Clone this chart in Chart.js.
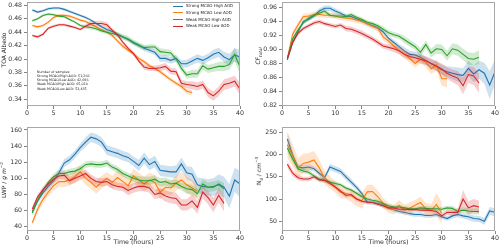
<!DOCTYPE html>
<html>
<head>
<meta charset="utf-8">
<script src="https://cdn.jsdelivr.net/npm/chart.js@4.4.1/dist/chart.umd.min.js"></script>
<style>
    html, body { margin: 0; padding: 0; background: #fff; }
    body { position: relative; width: 500px; height: 248px; overflow: hidden; font-family: "DejaVu Sans", sans-serif; color: #222; }
    canvas { position: absolute; }
    .ylab { position: absolute; white-space: nowrap; font-size: 6px; line-height: 6px; transform: translate(-50%, -50%) rotate(-90deg); }
    .ylab i { font-style: italic; }
    .ylab sub, .ylab sup { font-size: 4.2px; line-height: 0; }
    .legend { position: absolute; left: 173px; top: 3.3px; font-size: 4px; line-height: 6.7px; white-space: nowrap; }
    .legend span { display: inline-block; width: 10px; height: 0; border-top: 1px solid; vertical-align: middle; margin-right: 3px; }
    .samples { position: absolute; left: 37px; top: 69.5px; font-size: 3.3px; line-height: 4.33px; white-space: nowrap; }
</style>
</head>
<body>
<canvas id="albedo-chart" width="245" height="124" style="left:0;top:0;width:245px;height:124px"></canvas>
<canvas id="cf-chart" width="250" height="124" style="left:250px;top:0;width:250px;height:124px"></canvas>
<canvas id="lwp-chart" width="245" height="124" style="left:0;top:124px;width:245px;height:124px"></canvas>
<canvas id="nd-chart" width="250" height="124" style="left:250px;top:124px;width:250px;height:124px"></canvas>

<div class="ylab" style="left:3.6px;top:50px">TOA Albedo</div>
<div class="ylab" style="left:258px;top:56px"><i>CF<sub>total</sub></i></div>
<div class="ylab" style="left:3.6px;top:180px">LWP / <i>g m</i><sup>&minus;2</sup></div>
<div class="ylab" style="left:259px;top:171px">N<sub>d</sub> / <i>cm</i><sup>&minus;3</sup></div>

<div class="legend" id="legend"></div>
<div class="samples" id="samples"></div>

<script>
// x axis
var hours = [1,2,3,4,5,6,7,8,9,10,11,12,13,14,15,16,17,18,19,20,21,22,23,24,25,26,27,28,29,30,31,32,33,34,35,36,37,38,39,40];
var hourTicks = [0,5,10,15,20,25,30,35,40];

var seriesNames = ['Strong MCAO High AOD', 'Strong MCAO Low AOD', 'Weak MCAO High AOD', 'Weak MCAO Low AOD'];
var sampleLines = ['Number of samples:', 'Strong MCAO/High AOD: 51,266', 'Strong MCAO/Low AOD: 42,696', 'Weak MCAO/High AOD: 65,020', 'Weak MCAO/Low AOD: 53,435'];

// TOA albedo
var albedoTicks = [0.34,0.36,0.38,0.40,0.42,0.44,0.46,0.48];
var albedoStrongHigh = [0.473,0.470,0.472,0.475,0.476,0.476,0.474,0.471,0.468,0.465,0.462,0.458,0.453,0.448,0.444,0.441,0.437,0.433,0.429,0.424,0.420,0.416,0.413,0.410,0.401,0.401,0.398,0.401,0.393,0.393,0.397,0.401,0.398,0.402,0.407,0.410,0.403,0.399,0.406,0.403];
var albedoStrongLow = [0.450,0.448,0.450,0.455,0.462,0.465,0.465,0.464,0.461,0.458,0.456,0.452,0.448,0.444,0.440,0.435,0.427,0.419,0.413,0.408,0.401,0.396,0.390,0.386,0.381,0.375,0.369,0.364,0.359,0.352,0.350];
var albedoWeakHigh = [0.457,0.460,0.465,0.467,0.466,0.464,0.463,0.459,0.455,0.450,0.448,0.447,0.445,0.442,0.440,0.438,0.436,0.433,0.430,0.425,0.421,0.417,0.418,0.418,0.411,0.410,0.409,0.400,0.386,0.376,0.378,0.378,0.390,0.385,0.387,0.389,0.389,0.392,0.407,0.388];
var albedoWeakLow = [0.435,0.433,0.437,0.446,0.449,0.451,0.451,0.449,0.447,0.444,0.449,0.453,0.453,0.453,0.451,0.443,0.436,0.425,0.416,0.408,0.397,0.388,0.386,0.386,0.387,0.389,0.382,0.381,0.364,0.362,0.361,0.359,0.362,0.350,0.345,0.352,0.362,0.364,0.367,0.355];
var albedoStrongHighErr = [0.002,0.002,0.002,0.002,0.002,0.002,0.002,0.002,0.002,0.002,0.002,0.002,0.002,0.002,0.003,0.003,0.003,0.003,0.003,0.003,0.003,0.004,0.004,0.004,0.005,0.005,0.005,0.005,0.005,0.006,0.006,0.006,0.006,0.006,0.007,0.007,0.008,0.009,0.010,0.011];
var albedoStrongLowErr = [0.002,0.002,0.002,0.002,0.002,0.002,0.002,0.002,0.002,0.002,0.002,0.002,0.002,0.002,0.002,0.002,0.003,0.003,0.003,0.003,0.003,0.003,0.003,0.003,0.003,0.003,0.003,0.003,0.004,0.004,0.004];
var albedoWeakHighErr = [0.002,0.002,0.002,0.002,0.002,0.002,0.002,0.002,0.002,0.002,0.003,0.003,0.003,0.003,0.003,0.003,0.004,0.004,0.004,0.004,0.004,0.004,0.004,0.004,0.005,0.005,0.005,0.005,0.005,0.005,0.006,0.006,0.006,0.006,0.006,0.007,0.007,0.008,0.010,0.011];
var albedoWeakLowErr = [0.002,0.002,0.002,0.002,0.002,0.002,0.002,0.002,0.002,0.002,0.003,0.004,0.004,0.004,0.004,0.003,0.003,0.003,0.003,0.003,0.003,0.004,0.004,0.004,0.005,0.005,0.005,0.005,0.005,0.005,0.006,0.006,0.006,0.007,0.007,0.007,0.008,0.008,0.008,0.009];

// Cloud fraction
var cfTicks = [0.82,0.84,0.86,0.88,0.90,0.92,0.94,0.96];
var cfStrongHigh = [0.885,0.910,0.925,0.940,0.943,0.948,0.955,0.959,0.959,0.955,0.952,0.948,0.947,0.944,0.941,0.937,0.934,0.931,0.925,0.916,0.910,0.904,0.898,0.893,0.892,0.889,0.884,0.880,0.876,0.871,0.868,0.866,0.864,0.863,0.873,0.865,0.871,0.866,0.849,0.868];
var cfStrongLow = [0.887,0.922,0.935,0.947,0.948,0.950,0.950,0.949,0.949,0.948,0.946,0.945,0.944,0.942,0.940,0.937,0.933,0.930,0.918,0.912,0.905,0.898,0.893,0.887,0.880,0.886,0.882,0.872,0.878,0.858,0.858];
var cfWeakHigh = [0.887,0.915,0.928,0.938,0.945,0.949,0.952,0.955,0.949,0.948,0.948,0.947,0.950,0.946,0.943,0.939,0.937,0.934,0.929,0.924,0.921,0.919,0.914,0.909,0.904,0.896,0.907,0.895,0.901,0.900,0.891,0.901,0.899,0.893,0.887,0.886,0.889];
var cfWeakLow = [0.887,0.910,0.923,0.930,0.934,0.938,0.940,0.937,0.935,0.933,0.935,0.930,0.929,0.926,0.923,0.919,0.915,0.910,0.905,0.903,0.901,0.898,0.893,0.890,0.888,0.886,0.884,0.880,0.876,0.872,0.866,0.862,0.859,0.848,0.864,0.862,0.852];
var cfStrongHighErr = [0.003,0.003,0.003,0.003,0.003,0.003,0.004,0.004,0.004,0.004,0.003,0.003,0.003,0.003,0.003,0.003,0.003,0.003,0.003,0.004,0.004,0.004,0.005,0.005,0.005,0.006,0.006,0.006,0.007,0.007,0.008,0.009,0.010,0.010,0.011,0.012,0.013,0.015,0.020,0.018];
var cfStrongLowErr = [0.003,0.004,0.004,0.004,0.004,0.004,0.004,0.004,0.004,0.004,0.004,0.004,0.004,0.004,0.004,0.004,0.004,0.004,0.005,0.005,0.005,0.005,0.006,0.006,0.006,0.006,0.007,0.007,0.008,0.010,0.012];
var cfWeakHighErr = [0.003,0.003,0.003,0.003,0.003,0.003,0.003,0.003,0.003,0.003,0.003,0.003,0.003,0.003,0.003,0.003,0.003,0.003,0.004,0.004,0.004,0.004,0.005,0.005,0.005,0.006,0.006,0.006,0.007,0.007,0.007,0.008,0.008,0.008,0.009,0.009,0.010];
var cfWeakLowErr = [0.003,0.003,0.003,0.003,0.003,0.003,0.003,0.003,0.003,0.003,0.003,0.004,0.004,0.004,0.004,0.004,0.004,0.004,0.004,0.004,0.005,0.005,0.005,0.005,0.006,0.006,0.006,0.007,0.007,0.008,0.008,0.009,0.010,0.012,0.012,0.013,0.014];

// Liquid water path
var lwpTicks = [40,60,80,100,120,140,160];
var lwpStrongHigh = [59,72,82,90,97,107,119,123,130,138,145,151,149,145,135,133,131,128,126,121,116,125,117,121,110,109,108,108,118,107,105,92,90,89,89,93,89,78,98,93];
var lwpStrongLow = [45,62,74,83,91,96,96,98,102,108,100,95,89,95,100,95,101,96,91,103,98,93,98,95,83,89,88,94,98,92,88,84];
var lwpWeakHigh = [57,73,85,95,102,106,106,108,109,112,117,118,117,117,119,114,111,106,103,100,98,97,97,99,95,96,93,94,90,87,86,81,93,89,90,92,87];
var lwpWeakLow = [62,77,86,93,99,103,104,97,100,103,106,100,96,95,96,92,90,89,85,88,90,90,88,80,82,78,76,75,67,67,72,64,83,76,67,79,69];
var lwpStrongHighErr = [3,3,3,4,4,5,5,5,5,5,6,6,6,6,6,6,6,6,6,6,7,7,7,7,7,7,7,8,8,8,9,9,10,10,11,12,13,15,15,16];
var lwpStrongLowErr = [3,4,5,5,6,6,7,7,8,8,8,8,8,8,8,8,9,9,9,9,9,9,9,9,9,9,9,9,10,10,10,10];
var lwpWeakHighErr = [3,3,3,3,4,4,4,4,4,4,4,4,4,4,4,4,4,4,4,4,5,5,5,5,5,5,5,5,5,6,6,6,6,6,6,6,7];
var lwpWeakLowErr = [3,3,4,4,4,4,5,5,5,5,5,5,5,5,5,5,5,5,6,6,6,6,6,6,6,7,7,7,7,7,8,8,8,8,9,9,10];

// Droplet number
var ndTicks = [50,100,150,200,250];
var ndStrongHigh = [235,199,172,170,172,168,158,148,172,167,162,150,138,126,112,93,92,90,86,80,76,72,70,67,65,65,63,63,65,60,56,62,65,62,60,56,55,50,73,70];
var ndStrongLow = [222,198,170,180,183,188,170,148,137,127,115,113,108,100,96,116,117,105,90,80,76,86,75,80,86,92,78,74,88,68];
var ndWeakHigh = [215,190,168,163,160,152,145,142,138,135,132,125,120,113,105,100,97,95,90,85,82,82,80,78,78,80,79,78,78,77,80,79,72,75,73,72,72];
var ndWeakLow = [178,158,148,145,145,150,143,142,135,127,118,108,110,100,95,93,92,88,85,80,80,77,77,76,76,75,75,74,72,62,70,70,70,100,80,85,82];
var ndStrongHighErr = [15,10,7,6,6,6,6,6,7,7,7,7,7,6,6,6,5,5,5,5,5,5,5,5,5,5,5,5,5,5,5,6,6,6,7,7,7,8,9,9];
var ndStrongLowErr = [30,25,22,22,20,20,18,15,14,13,13,13,14,16,18,16,15,14,12,11,11,12,12,12,12,13,13,14,25,25];
var ndWeakHighErr = [10,8,6,5,5,5,5,5,5,5,4,4,4,4,4,4,4,4,4,4,4,4,4,4,4,4,5,5,5,5,5,6,6,6,6,7,7];
var ndWeakLowErr = [8,7,6,5,5,5,5,5,5,5,5,5,5,5,4,4,4,4,4,4,4,4,4,4,4,5,5,5,5,6,6,7,8,20,15,15,14];

var lineColors = ['#1f77b4', '#ff7f0e', '#2ca02c', '#d62728'];
var bandColors = ['rgba(31,119,180,0.22)', 'rgba(255,127,14,0.22)', 'rgba(44,160,44,0.22)', 'rgba(214,39,40,0.22)'];
var font = 'DejaVu Sans';

// Grey box round the plot area
var frame = {
    id: 'frame',
    afterDatasetsDraw: function(chart) {
        var a = chart.chartArea;
        var ctx = chart.ctx;
        ctx.save();
        ctx.strokeStyle = '#a8a8a8';
        ctx.lineWidth = 1;
        ctx.strokeRect(a.left + 0.5, a.top + 0.5, a.right - a.left - 1, a.bottom - a.top - 1);
        ctx.restore();
    }
};

function points(vals, errs, sign) {
    return vals.map(function(v, i) {
        return { x: hours[i], y: v + sign * errs[i] };
    });
}

// lower edge, upper edge filled down to it, then the mean line
function seriesDatasets(values, errors) {
    var sets = [];
    for (var k = values.length - 1; k >= 0; k--) {
        sets.push({ data: points(values[k], errors[k], -1), borderWidth: 0, borderColor: 'transparent', pointRadius: 0, fill: false });
        sets.push({ data: points(values[k], errors[k], 1), borderWidth: 0, borderColor: 'transparent', pointRadius: 0, fill: '-1', backgroundColor: bandColors[k] });
        sets.push({ data: points(values[k], errors[k], 0), borderWidth: 1.1, borderColor: lineColors[k], pointRadius: 0, fill: false });
    }
    return sets;
}

function makePanel(id, values, errors, yTicks, yMin, yMax, decimals, opts) {
    var ctx = document.getElementById(id);
    return new Chart(ctx, {
        type: 'line',
        data: { datasets: seriesDatasets(values, errors) },
        options: {
            responsive: false,
            maintainAspectRatio: false,
            animation: false,
            layout: { padding: { left: 0, right: 5, top: opts.top, bottom: 0 } },
            plugins: { legend: { display: false }, tooltip: { enabled: false } },
            scales: {
                x: {
                    type: 'linear',
                    min: 0,
                    max: 40,
                    afterBuildTicks: function(s) { s.ticks = hourTicks.map(function(v) { return { value: v }; }); },
                    afterFit: function(s) { s.height = opts.xHeight; s.paddingLeft = 0; s.paddingRight = 0; },
                    grid: { drawOnChartArea: false, tickLength: 3, color: '#666', lineWidth: 0.8 },
                    border: { display: false },
                    ticks: { autoSkip: false, maxRotation: 0, padding: 1, color: '#333', font: { family: font, size: 6.3 } },
                    title: { display: opts.xTitle, text: 'Time (hours)', color: '#333', padding: { top: 0, bottom: 2 }, font: { family: font, size: 6.3 } }
                },
                y: {
                    min: yMin,
                    max: yMax,
                    afterBuildTicks: function(s) { s.ticks = yTicks.map(function(v) { return { value: v }; }); },
                    afterFit: function(s) { s.width = opts.yWidth; s.paddingTop = 0; s.paddingBottom = 0; },
                    grid: { drawOnChartArea: false, tickLength: 3, color: '#666', lineWidth: 0.8 },
                    border: { display: false },
                    ticks: {
                        autoSkip: false,
                        padding: 2,
                        color: '#333',
                        font: { family: font, size: 6.2 },
                        callback: function(v) { return v.toFixed(decimals); }
                    }
                }
            }
        },
        plugins: [frame]
    });
}

makePanel('albedo-chart',
    [albedoStrongHigh, albedoStrongLow, albedoWeakHigh, albedoWeakLow],
    [albedoStrongHighErr, albedoStrongLowErr, albedoWeakHighErr, albedoWeakLowErr],
    albedoTicks, 0.330, 0.485, 2, { top: 2, xHeight: 18, yWidth: 27, xTitle: false });

makePanel('cf-chart',
    [cfStrongHigh, cfStrongLow, cfWeakHigh, cfWeakLow],
    [cfStrongHighErr, cfStrongLowErr, cfWeakHighErr, cfWeakLowErr],
    cfTicks, 0.819, 0.968, 2, { top: 2, xHeight: 18, yWidth: 32, xTitle: false });

makePanel('lwp-chart',
    [lwpStrongHigh, lwpStrongLow, lwpWeakHigh, lwpWeakLow],
    [lwpStrongHighErr, lwpStrongLowErr, lwpWeakHighErr, lwpWeakLowErr],
    lwpTicks, 34.7, 163.7, 0, { top: 3, xHeight: 17, yWidth: 27, xTitle: true });

makePanel('nd-chart',
    [ndStrongHigh, ndStrongLow, ndWeakHigh, ndWeakLow],
    [ndStrongHighErr, ndStrongLowErr, ndWeakHighErr, ndWeakLowErr],
    ndTicks, 28, 262, 0, { top: 3, xHeight: 17, yWidth: 32, xTitle: true });

// Legend and sample counts in the albedo panel
var legend = document.getElementById('legend');
seriesNames.forEach(function(name, k) {
    var row = document.createElement('div');
    var swatch = document.createElement('span');
    swatch.style.borderTopColor = lineColors[k];
    row.appendChild(swatch);
    row.appendChild(document.createTextNode(name));
    legend.appendChild(row);
});

var samples = document.getElementById('samples');
sampleLines.forEach(function(line) {
    var row = document.createElement('div');
    row.textContent = line;
    samples.appendChild(row);
});
</script>
</body>
</html>
